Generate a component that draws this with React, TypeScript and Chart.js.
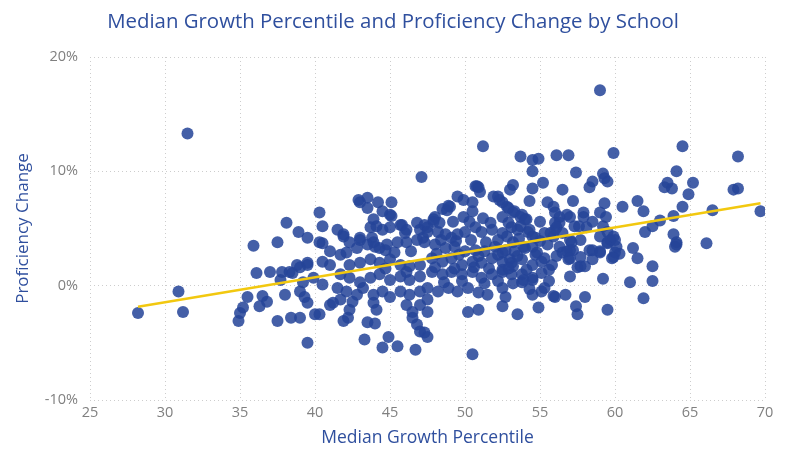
import { useEffect, useRef } from "react";
import { Chart, registerables } from "chart.js";

Chart.register(...registerables);

const chartTitle = "Median Growth Percentile and Proficiency Change by School";
const xAxisTitle = "Median Growth Percentile";
const yAxisTitle = "Proficiency Change";

const xMin = 25;
const xMax = 70;
const xStep = 5;
const yMin = -10;
const yMax = 20;
const yStep = 10;

// [median growth percentile, proficiency change %]
const schoolPoints: [number, number][] = [
  [28.2, -2.4], [30.9, -0.5], [31.2, -2.3], [31.5, 13.3],
  [35.5, -1.0], [35.2, -1.9], [35.0, -2.4], [34.9, -3.1], [36.5, -0.9], [36.8, -1.4], [36.3, -1.8],
  [35.9, 3.5], [36.1, 1.1], [37.0, 1.2], [37.8, 1.2], [37.7, 0.5], [38.0, -0.8], [37.5, 3.8],
  [38.1, 5.5], [38.9, 4.7], [39.5, 4.2], [40.3, 6.4], [40.5, 5.2], [40.5, 3.7], [39.5, 1.8],
  [38.5, 1.1], [39.0, 1.6], [39.0, -0.5], [39.5, -1.5], [39.3, -1.0], [37.5, -3.1], [38.4, -2.8],
  [39.0, -2.8], [40.0, -2.5], [40.3, -2.5], [39.5, -5.0], [41.0, -1.7],
  [42.9, 7.5], [43.5, 7.7], [43.0, 7.3], [43.5, 6.8], [44.2, 7.3], [45.1, 7.3], [45.0, 6.2], [44.5, 6.5],
  [41.5, 4.9], [41.9, 4.5], [43.9, 5.8], [43.7, 5.1], [44.1, 5.2], [44.5, 4.9], [45.0, 5.1], [45.7, 5.3],
  [46.1, 4.9], [46.8, 5.5], [47.0, 4.9], [47.5, 5.1], [43.0, 4.2], [42.3, 3.8], [42.8, 3.3], [43.5, 3.6],
  [43.9, 3.8], [44.3, 3.3], [44.8, 3.6], [45.5, 3.8], [46.1, 3.8], [46.8, 4.0], [47.2, 4.2],
  [41.0, 3.0], [41.7, 2.7], [42.1, 2.9], [40.5, 2.1], [41.0, 1.8], [38.8, 1.8], [38.3, 1.2], [39.5, 2.0],
  [42.3, 1.8], [43.0, 2.0], [43.7, 2.3], [44.3, 2.0], [45.0, 2.3], [45.7, 1.8], [46.3, 1.7], [47.0, 1.8],
  [41.7, 1.0], [42.3, 0.7], [43.0, 0.3], [43.7, 0.7], [44.3, 1.0], [45.0, 0.5], [45.7, 0.8], [46.3, 0.5],
  [47.0, 0.8], [39.9, 0.7], [40.5, 0.1], [39.2, 0.3],
  [41.5, -0.2], [42.1, -0.5], [42.8, -0.8], [43.2, -0.2], [43.9, -0.8], [44.5, -0.5], [45.0, -1.0],
  [45.7, -0.5], [46.3, -0.8], [47.0, -0.5], [47.5, -1.2], [41.2, -1.5], [41.7, -1.2], [42.3, -2.1],
  [42.5, -1.4], [43.9, -1.5], [44.1, -2.1], [46.1, -1.7], [46.5, -2.3], [47.0, -1.7], [42.2, -2.8],
  [41.9, -3.1], [43.5, -3.2], [44.0, -3.3], [46.5, -2.8], [46.8, -3.4], [47.0, -4.0], [47.3, -4.1],
  [43.3, -4.7], [44.9, -4.5], [44.5, -5.4], [45.5, -5.3], [46.7, -5.6],
  [51.2, 12.2], [47.1, 9.5], [53.7, 11.3], [54.5, 11.0], [54.9, 11.1], [56.1, 11.4], [56.9, 11.4],
  [54.5, 10.0], [55.2, 9.0], [54.5, 8.5], [54.3, 7.4], [56.5, 8.4], [55.5, 7.3], [50.7, 8.7], [50.9, 8.6],
  [53.2, 8.8], [53.0, 8.4], [52.2, 7.8], [52.5, 7.3], [49.5, 7.8], [49.9, 7.5], [50.5, 7.3], [45.1, 6.1],
  [48.9, 7.0], [48.5, 6.7], [48.0, 6.0], [47.9, 5.6], [50.5, 6.5], [49.9, 6.0], [51.2, 5.9],
  [52.9, 6.8], [53.3, 6.5], [53.8, 6.2], [54.0, 5.8], [52.5, 6.0], [52.9, 5.5], [47.3, 5.3], [47.5, 4.7],
  [47.3, 3.8], [48.2, 4.7], [48.7, 4.5], [49.1, 4.2], [49.5, 4.5], [50.0, 4.7], [50.7, 5.1], [51.1, 4.7],
  [51.8, 4.9], [52.5, 4.6], [53.1, 5.1], [53.5, 4.9], [54.2, 4.7], [54.7, 4.2], [55.3, 4.6], [56.0, 4.9],
  [48.0, 3.6], [48.7, 3.3], [49.3, 3.4], [50.0, 3.0], [50.7, 3.1], [51.3, 3.0], [52.0, 3.4], [52.7, 3.1],
  [53.3, 3.0], [54.0, 3.3], [54.7, 2.7], [55.3, 2.4], [55.8, 1.8], [47.8, 2.4], [48.5, 2.1], [49.1, 2.4],
  [49.8, 1.8], [50.5, 2.1], [51.1, 2.0], [51.8, 2.4], [52.5, 2.1], [53.1, 2.0], [53.8, 2.3], [54.5, 1.8],
  [47.8, 1.2], [48.5, 1.0], [49.1, 1.2], [49.8, 1.0], [50.5, 1.2], [51.1, 0.7], [51.8, 1.0], [52.5, 1.2],
  [53.1, 1.0], [53.8, 1.0], [54.5, 0.7], [55.1, 1.1], [47.5, -0.2], [48.2, -0.5], [48.9, -0.2],
  [49.5, -0.5], [50.2, -0.2], [50.9, -0.6], [51.5, -0.8], [52.5, -0.2], [52.7, -1.0], [53.8, 0.3],
  [54.5, -0.8], [55.3, -0.2], [56.0, -1.0], [47.5, -2.3], [50.2, -2.3], [50.9, -2.1], [52.5, -1.8],
  [53.5, -2.5], [54.9, -1.9], [47.5, -4.5], [50.5, -6.0],
  [59.0, 17.1], [64.5, 12.2], [68.2, 11.3], [59.9, 11.6], [64.1, 10.0], [57.4, 9.9], [59.2, 9.8],
  [59.3, 9.4], [59.5, 9.1], [58.5, 9.1], [58.3, 8.6], [63.5, 9.0], [63.3, 8.6], [63.8, 8.5], [65.2, 9.0],
  [64.9, 8.0], [67.9, 8.4], [68.2, 8.5], [57.2, 7.4], [61.5, 7.4], [60.5, 6.9], [61.9, 6.5], [64.5, 6.9],
  [66.5, 6.6], [69.7, 6.5], [59.3, 7.2], [59.0, 6.4], [59.4, 6.0], [63.9, 6.1], [63.0, 5.7], [62.5, 5.2],
  [62.0, 4.7], [63.9, 4.5], [64.1, 3.8], [64.1, 3.6], [66.1, 3.7], [59.5, 4.7], [60.0, 4.0], [59.5, 3.7],
  [61.2, 3.3], [61.5, 2.4], [60.0, 2.9], [59.9, 2.5], [60.3, 2.8], [62.5, 1.7], [62.5, 0.4], [61.0, 0.3],
  [61.9, -1.1], [59.2, 0.6], [59.5, -2.1], [57.4, -1.8], [57.5, -2.5], [58.0, -1.0], [56.7, -0.8],
  [55.9, -0.9], [57.0, 0.8], [57.7, 1.7], [58.0, 1.7], [58.5, 2.3], [58.3, 3.1], [59.0, 2.9],
  [57.9, 6.4], [57.9, 6.0], [58.5, 5.6], [57.3, 5.2], [57.6, 5.2], [57.1, 3.8], [57.0, 3.1], [56.5, 2.9],
  [56.9, 2.3], [55.9, 6.9], [56.0, 6.4], [56.3, 6.0], [56.8, 6.2], [57.0, 6.0], [56.0, 5.5], [56.3, 5.5],
  [56.1, 5.1], [55.7, 4.6], [55.9, 4.3], [55.5, 3.6], [54.8, 2.9], [55.1, 2.1], [54.1, 1.4], [54.5, 0.5],
  [53.9, 0.5], [54.3, -0.3], [55.1, -0.5], [52.8, 6.9], [53.2, 6.4], [53.7, 6.0], [54.1, 5.8], [53.7, 5.2],
  [54.3, 4.9], [54.5, 4.3], [52.8, 4.3], [53.2, 3.8], [53.9, 3.4], [54.5, 3.4], [52.5, 2.9], [53.0, 2.3],
  [52.5, 1.4], [53.2, 1.7], [59.2, 5.2], [59.0, 4.3], [59.5, 3.8], [59.7, 4.0], [59.9, 4.3], [58.1, 5.1],
  [56.5, 4.6], [57.0, 4.0], [57.7, 4.0], [56.3, 3.4], [56.8, 3.0], [57.2, 3.1], [57.0, 2.4], [57.7, 2.5],
  [57.5, 1.6], [58.5, 3.1], [59.0, 3.0], [60.1, 3.4], [59.8, 2.4], [64.0, 3.4],
  [40.3, 3.8], [41.9, 4.3], [43.0, 4.0], [43.8, 4.2], [44.0, 3.4], [44.7, 3.1], [45.8, 5.3], [46.0, 4.6],
  [47.9, 5.8], [48.3, 5.5], [48.8, 6.6], [49.0, 6.9], [50.8, 8.7], [51.0, 8.2], [51.9, 7.8], [52.3, 7.5],
  [48.4, 4.0], [49.4, 3.9], [50.4, 4.0], [51.4, 3.8], [52.2, 4.0], [53.6, 4.1], [55.0, 3.9],
  [48.1, 2.8], [49.6, 2.7], [50.9, 2.6], [52.2, 2.7], [53.5, 2.6], [56.1, 2.6],
  [48.0, 1.6], [49.3, 1.5], [50.6, 1.6], [51.6, 1.5], [52.9, 1.5], [55.6, 1.4],
  [48.6, 0.3], [49.8, 0.4], [51.3, 0.2], [52.2, 0.4], [53.2, 0.2], [55.6, 0.4],
  [49.2, 5.6], [50.3, 5.6], [51.7, 5.5], [55.0, 5.6], [46.4, 3.0], [45.3, 2.9], [44.7, 1.5], [46.1, 1.2],
];

// trend line endpoints
const trendGrowth = [28.2, 69.7];
const trendChange = [-1.84, 7.2];

const titleBlue = "#2F4F9E";
const dotColor = "rgba(37, 69, 152, 0.86)";
const trendColor = "#F2C80F";
const gridColor = "#cdcdcd";
const tickColor = "#808080";
const fontFamily = "'Open Sans', 'Noto Sans', sans-serif";

const titlePlugin = {
  id: "centeredTitle",
  afterDraw(chart: any) {
    const ctx = chart.ctx;
    ctx.save();
    ctx.font = `20.4px ${fontFamily}`;
    ctx.fillStyle = titleBlue;
    ctx.textAlign = "center";
    ctx.textBaseline = "alphabetic";
    ctx.fillText(chartTitle, chart.width / 2, 28);
    ctx.restore();
  },
};

export default function App() {
  const ref = useRef<HTMLCanvasElement>(null);

  useEffect(() => {
    document.body.style.margin = "0";
    const canvas = ref.current;
    if (!canvas) return;
    const chart = new Chart(canvas, {
      type: "scatter",
      data: {
        datasets: [
          {
            type: "line",
            label: "Trend",
            data: trendGrowth.map((x, i) => ({ x, y: trendChange[i] })),
            borderColor: trendColor,
            borderWidth: 2.5,
            pointRadius: 0,
            fill: false,
            order: 0,
          } as any,
          {
            type: "scatter",
            label: "Schools",
            data: schoolPoints.map(([x, y]) => ({ x, y })),
            backgroundColor: dotColor,
            borderWidth: 0,
            pointRadius: 6,
            pointHoverRadius: 6,
            order: 1,
          },
        ],
      },
      plugins: [titlePlugin],
      options: {
        animation: false,
        responsive: false,
        maintainAspectRatio: false,
        layout: { padding: { left: 0, right: 21, top: 57, bottom: 0 } },
        plugins: {
          legend: { display: false },
          tooltip: { enabled: false },
          title: { display: false },
        },
        scales: {
          x: {
            type: "linear",
            min: xMin,
            max: xMax,
            ticks: {
              stepSize: xStep,
              color: tickColor,
              font: { family: fontFamily, size: 14.5 },
              padding: 4,
            },
            grid: { color: gridColor, lineWidth: 1, drawTicks: false },
            border: { display: false, dash: [1, 3] },
            title: {
              display: true,
              text: xAxisTitle,
              color: titleBlue,
              font: { family: fontFamily, size: 17.5 },
              padding: { top: 0, bottom: 0 },
            },
            afterFit: (s: any) => {
              s.height = 49;
            },
          },
          y: {
            type: "linear",
            min: yMin,
            max: yMax,
            ticks: {
              stepSize: yStep,
              color: tickColor,
              font: { family: fontFamily, size: 14.5 },
              padding: 12,
              callback: (v: any) => `${v}%`,
            },
            grid: { color: gridColor, lineWidth: 1, drawTicks: false },
            border: { display: false, dash: [1, 3] },
            title: {
              display: true,
              text: yAxisTitle,
              color: titleBlue,
              font: { family: fontFamily, size: 17 },
              padding: { top: 13, bottom: 0 },
            },
            afterFit: (s: any) => {
              s.width = 90;
            },
          },
        },
      },
    });
    return () => chart.destroy();
  }, []);

  return (
    <div style={{ width: 786, height: 449 }}>
      <canvas ref={ref} width={786} height={449} style={{ display: "block" }} />
    </div>
  );
}
